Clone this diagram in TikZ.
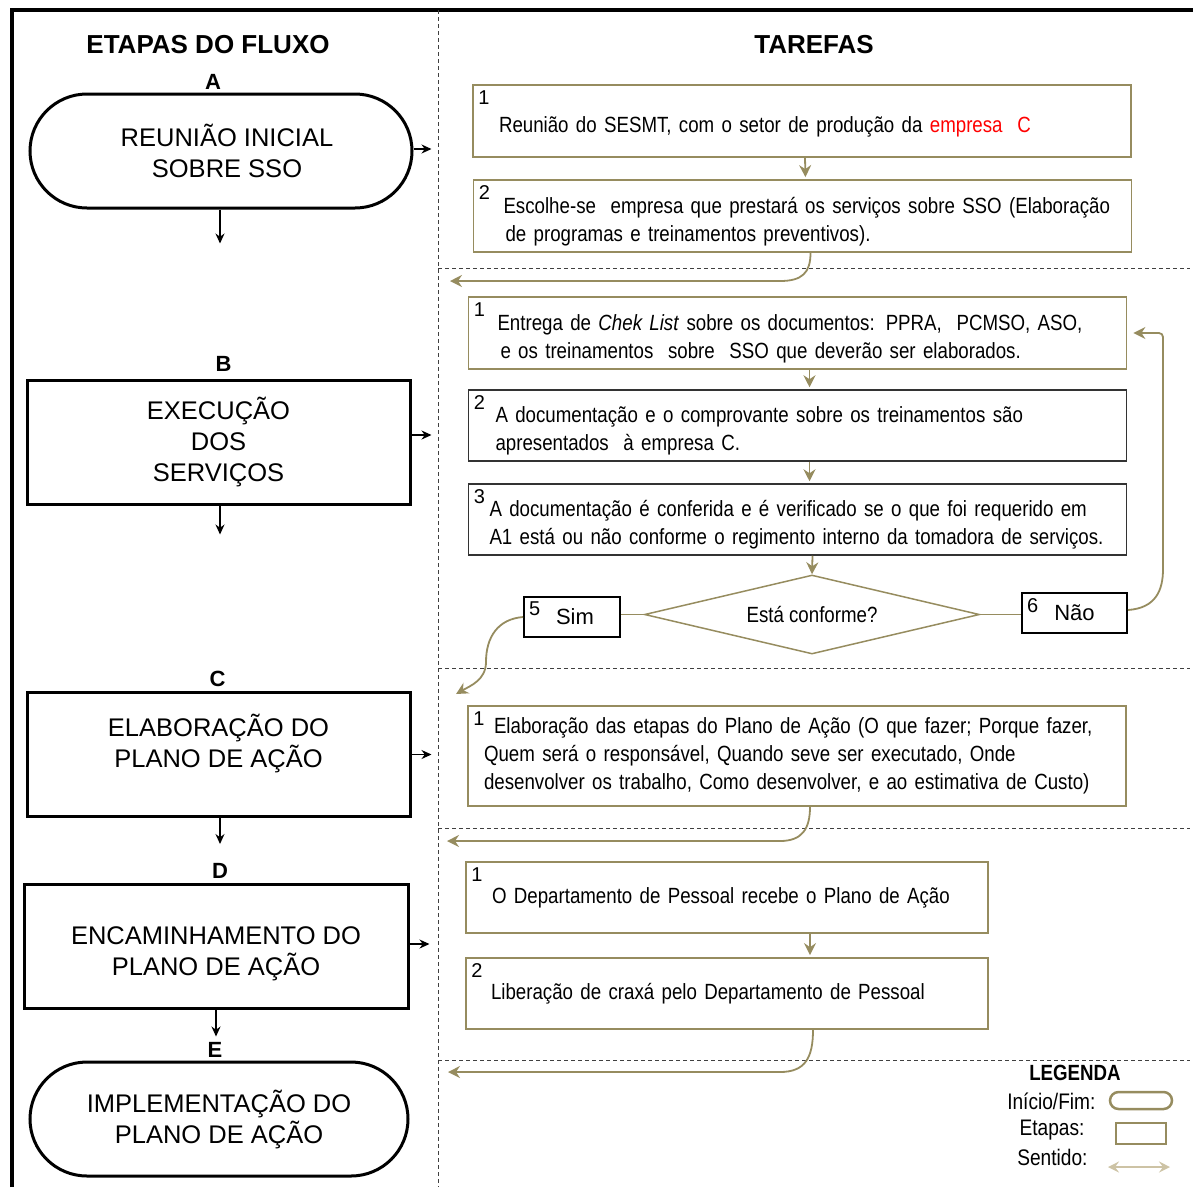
\documentclass[tikz,border=0pt]{standalone}
\usepackage{fontspec}
\setmainfont{Liberation Sans}
\newfontfamily\estreita{Liberation Sans}[FakeStretch=0.85]
\usetikzlibrary{positioning,arrows.meta,calc,shapes.geometric}
\definecolor{oliva}{RGB}{150,140,95}
\definecolor{bege}{RGB}{205,195,165}

\begin{document}
\begin{tikzpicture}[x=1pt,y=-1pt,>=Latex,
  titulo/.style={font=\bfseries\fontsize{26}{30}\selectfont},
  rotulo/.style={align=center,font=\fontsize{25.5}{31}\selectfont},
  etapa/.style={rotulo,draw,line width=3pt,minimum width=383pt,minimum height=124pt},
  inicio/.style={etapa,rounded corners=57pt,minimum height=114pt},
  letra/.style={font=\bfseries\fontsize{22}{22}\selectfont,inner sep=1pt},
  tarefa/.style={draw=oliva,line width=1.8pt,minimum height=72pt,inner xsep=18pt,text width=622pt,align=left,font=\estreita\fontsize{22}{28}\selectfont},
  tarefacurta/.style={tarefa,text width=486pt},
  desce/.style={execute at begin node={\rule{0pt}{#1}}},
  escura/.style={draw=black!80,line width=1.5pt},
  nro/.style={label={[font=\fontsize{20}{20}\selectfont,inner sep=0pt,anchor=north west,xshift=6pt,yshift=-6pt]north west:#1}},
  resposta/.style={draw,line width=2pt,minimum height=40pt,font=\fontsize{22}{22}\selectfont},
  seta/.style={->,line width=1.3pt,>={Stealth[length=10pt,width=9pt]}},
  fluxo/.style={->,draw=oliva,line width=1.8pt,>={Stealth[length=12pt,width=12pt,inset=4pt]}},
  divisa/.style={line width=1pt,dash pattern=on 4pt off 3pt,black!75},
  legtxt/.style={anchor=east,font=\estreita\fontsize{22.5}{22.5}\selectfont},
]
  \useasboundingbox (0,0) rectangle (1193,1187);
  % moldura e divisorias
  \draw[line width=4pt] (12,1187) -- (12,10) -- (1193,10);
  \draw[divisa] (438,10) -- (438,1187);
  \draw[divisa] (438,268) -- (1190,268);
  \draw[divisa] (438,668) -- (1190,668);
  \draw[divisa] (438,828) -- (1190,828);
  \draw[divisa] (438,1060) -- (1190,1060);
  % titulos
  \node[titulo] (tEtapas) at (208,45) {ETAPAS DO FLUXO};
  \node[titulo] (tTarefas) at (814,45) {TAREFAS};
  % etapas do fluxo
  \node[inicio,minimum width=382pt,label={[letra,label distance=2pt,xshift=-8pt]above:A}] (A) at (221,151) {\hspace*{12pt}REUNIÃO INICIAL\\\hspace*{12pt}SOBRE SSO};
  \node[etapa,label={[letra,label distance=6pt,xshift=5pt]above:B}] (B) at (218.5,442) {EXECUÇÃO\\DOS\\SERVIÇOS};
  \node[etapa,label={[letra,label distance=3pt,xshift=-1pt]above:C}] (C) at (218.5,754.5) {};
  \node[rotulo] (Ctxt) at (218.5,743.5) {ELABORAÇÃO DO\\PLANO DE AÇÃO};
  \node[etapa,minimum width=384pt,label={[letra,label distance=3pt,xshift=4pt]above:D}] (D) at (216,946) {};
  \node[rotulo] (Dtxt) at (216,953.5) {ENCAMINHAMENTO DO\\PLANO DE AÇÃO};
  \node[inicio,minimum width=378pt,label={[letra,label distance=2pt,xshift=-4pt]above:E}] (E) at (219,1119) {IMPLEMENTAÇÃO DO\\PLANO DE AÇÃO};
  % saidas das etapas
  \coordinate (ladoA) at ($(A.east)+(18,-2)$);
  \coordinate (ladoB) at ($(B.east)+(20,-7)$);
  \coordinate (ladoC) at ($(C.east)+(20,0)$);
  \coordinate (ladoD) at ($(D.east)+(20,-2)$);
  \draw[seta] ([yshift=2pt]A.east) -- (ladoA);
  \draw[seta] ([yshift=7pt]B.east) -- (ladoB);
  \draw[seta] (C.east) -- (ladoC);
  \draw[seta] ([yshift=2pt]D.east) -- (ladoD);
  \coordinate (desceA) at ($(A.south)+(-1,34)$);
  \coordinate (desceB) at ($(B.south)+(1.5,29)$);
  \coordinate (desceC) at ($(C.south)+(1.5,26)$);
  \coordinate (desceD) at ($(D.south)+(0,27)$);
  \draw[seta] ([xshift=-1pt]A.south) -- (desceA);
  \draw[seta] ([xshift=1.5pt]B.south) -- (desceB);
  \draw[seta] ([xshift=1.5pt]C.south) -- (desceC);
  \draw[seta] (D.south) -- (desceD);
  % tarefas A
  \node[tarefa,desce=27pt,nro=1] (a1) at (802,121) {\hspace*{8pt}Reunião do SESMT, com o setor de produção da \textcolor{red}{empresa\ \ C}};
  \node[tarefa,desce=27pt,nro=2] (a2) at (802.5,216) {\hspace*{12pt}Escolhe-se\ \ empresa que prestará os serviços sobre SSO (Elaboração\\\hspace*{14pt}de programas e treinamentos preventivos).};
  \draw[fluxo,shorten >=2pt] ([xshift=3pt]a1.south) -- ([xshift=3pt]a2.north);
  \coordinate (curvaA) at (780,281);
  \coordinate (voltaA) at (450,281);
  \draw[fluxo] ([xshift=8pt]a2.south) .. controls +(0,20) and +(22,0) .. (curvaA) -- (voltaA);
  % tarefas B
  \node[tarefa,desce=27pt,nro=1] (b1) at (797.5,333) {\hspace*{11pt}Entrega de \textit{Chek List} sobre os documentos: PPRA,\ \ PCMSO, ASO,\\\hspace*{14pt}e os treinamentos\ \ sobre\ \ SSO que deverão ser elaborados.};
  \node[tarefa,desce=26pt,escura,nro=2,minimum height=71pt] (b2) at (797.5,425.5) {\hspace*{9pt}A documentação e o comprovante sobre os treinamentos são\\\hspace*{9pt}apresentados\ \ à empresa C.};
  \node[tarefa,desce=26pt,escura,nro=3,minimum height=71pt] (b3) at (797.5,519.5) {\hspace*{3pt}A documentação é conferida e é verificado se o que foi requerido em\\\hspace*{3pt}A1 está ou não conforme o regimento interno da tomadora de serviços.};
  \draw[fluxo,shorten >=2pt] ([xshift=12pt]b1.south) -- ([xshift=12pt]b2.north);
  \draw[fluxo,shorten >=2pt] ([xshift=12pt]b2.south) -- ([xshift=12pt]b3.north);
  \node[diamond,shape aspect=4.24,draw=oliva,line width=1.5pt,minimum width=335pt,minimum height=79pt,inner sep=0pt,font=\estreita\fontsize{22}{22}\selectfont] (conf) at (812,614.5) {Está conforme?};
  \draw[fluxo] ([xshift=15pt]b3.south) -- (conf.north);
  \node[resposta,minimum width=96pt,nro=5] (sim) at (572,617) {\hspace*{6pt}Sim};
  \node[resposta,minimum width=105pt,nro=6] (nao) at (1074.5,613) {Não};
  \draw[oliva,line width=1.8pt] (conf.west) -- (conf.west -| sim.east);
  \draw[oliva,line width=1.8pt] (conf.east) -- (conf.east -| nao.west);
  \coordinate (topoNao) at (1163,565);
  \draw[fluxo,rounded corners=4pt] ([yshift=3pt]nao.east) .. controls +(28,-2) and +(0,25) .. (topoNao) |- ([xshift=6pt]b1.east);
  \coordinate (curvaSim) at (486,662);
  \coordinate (voltaSim) at (456,694);
  \draw[fluxo] (sim.west) .. controls +(-25,2) and +(0,-25) .. (curvaSim) .. controls +(0,18) and +(14,-8) .. (voltaSim);
  % tarefas C
  \node[tarefa,nro=1,minimum height=100pt,inner xsep=16pt,text width=626pt] (c1) at (797,756) {\hspace*{10pt}Elaboração das etapas do Plano de Ação (O que fazer; Porque fazer,\\Quem será o responsável, Quando seve ser executado, Onde\\desenvolver os trabalho, Como desenvolver, e ao estimativa de Custo)};
  \coordinate (curvaC) at (780,841);
  \coordinate (voltaC) at (447,841);
  \draw[fluxo] ([xshift=13pt]c1.south) .. controls +(0,22) and +(22,0) .. (curvaC) -- (voltaC);
  % tarefas D
  \node[tarefacurta,nro=1,minimum height=71pt] (d1) at (727,897.5) {\hspace*{8pt}O Departamento de Pessoal recebe o Plano de Ação};
  \node[tarefacurta,nro=2,minimum height=71pt] (d2) at (727,993.5) {\hspace*{7pt}Liberação de craxá pelo Departamento de Pessoal};
  \draw[fluxo,shorten >=2pt] ([xshift=83pt]d1.south) -- ([xshift=83pt]d2.north);
  \coordinate (curvaD) at (780,1072);
  \coordinate (voltaD) at (448,1072);
  \draw[fluxo] ([xshift=86pt]d2.south) .. controls +(0,28) and +(25,0) .. (curvaD) -- (voltaD);
  % legenda
  \node[font=\estreita\bfseries\fontsize{22}{22}\selectfont] (legenda) at (1075,1073) {LEGENDA};
  \node[legtxt] (txtIni) at (1099,1101) {Início/Fim:};
  \node[legtxt] (txtEt) at (1088,1130) {Etapas:};
  \node[legtxt] (txtSen) at (1091,1157) {Sentido:};
  \node[draw=oliva,line width=2.5pt,rounded corners=8.5pt,minimum width=62pt,minimum height=17pt,inner sep=0pt] (simbIni) at (1141,1100.5) {};
  \node[draw=oliva,line width=2.5pt,minimum width=50pt,minimum height=21pt,inner sep=0pt] (simbEt) at (1141,1133.5) {};
  \coordinate (senA) at (1108,1167);
  \coordinate (senB) at (1170,1167);
  \draw[bege,line width=2.5pt,{Stealth[length=11pt,width=11pt,inset=4pt]}-{Stealth[length=11pt,width=11pt,inset=4pt]}] (senA) -- (senB);
\end{tikzpicture}
\end{document}
